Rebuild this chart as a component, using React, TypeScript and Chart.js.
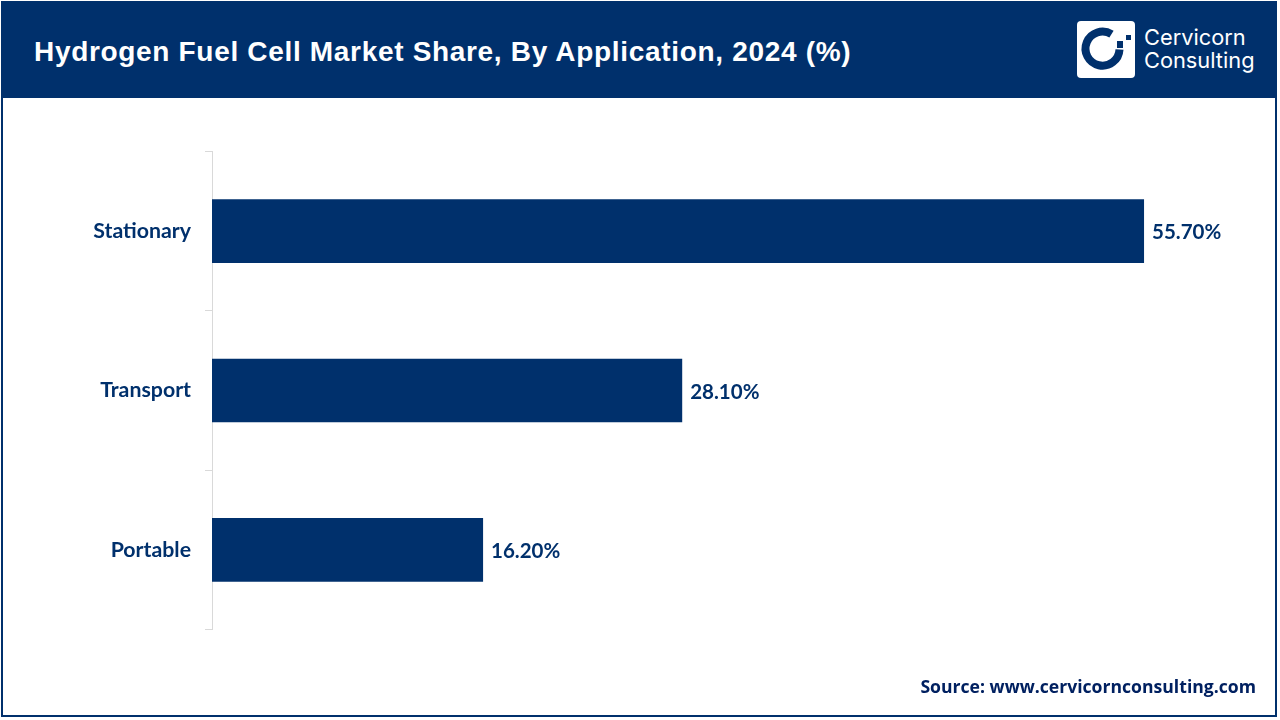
import React, { useEffect, useRef } from "react";
import { Chart, registerables } from "chart.js";

Chart.register(...registerables);

const TITLE = "Hydrogen Fuel Cell Market Share, By Application, 2024 (%)";
const SOURCE = "Source: www.cervicornconsulting.com";
const LOGO_LINES = ["Cervicorn", "Consulting"];
const categories = ["Stationary", "Transport", "Portable"];
const shares = [55.7, 28.1, 16.2];
const NAVY = "#00306C";

const valueLabels = {
  id: "valueLabels",
  afterDatasetsDraw(chart: any) {
    const { ctx } = chart;
    const meta = chart.getDatasetMeta(0);
    ctx.save();
    ctx.font = "bold 20.5px Lato";
    ctx.fillStyle = NAVY;
    ctx.textAlign = "left";
    ctx.textBaseline = "middle";
    meta.data.forEach((bar: any, i: number) => {
      ctx.fillText(shares[i].toFixed(2) + "%", bar.x + 8, bar.y + 1.5);
    });
    ctx.restore();
  },
};

export default function App() {
  const ref = useRef<HTMLCanvasElement>(null);
  useEffect(() => {
    const chart = new Chart(ref.current!, {
      type: "bar",
      data: {
        labels: categories,
        datasets: [
          {
            data: shares,
            backgroundColor: NAVY,
            categoryPercentage: 1,
            barPercentage: 0.4,
          },
        ],
      },
      options: {
        indexAxis: "y",
        animation: false,
        responsive: false,
        layout: { padding: { top: 151.5, bottom: 90.5, right: 64, left: 0 } },
        plugins: { legend: { display: false }, tooltip: { enabled: false } },
        scales: {
          x: { display: false, min: 0, max: 60 },
          y: {
            afterFit(scale: any) {
              scale.width = 212;
            },
            border: { color: "#D9D9D9", width: 1 },
            grid: {
              offset: true,
              drawOnChartArea: false,
              drawTicks: true,
              tickLength: 7,
              color: "#D9D9D9",
            },
            ticks: {
              padding: 14,
              color: NAVY,
              font: { family: "Lato", weight: "bold", size: 21.3 },
            },
          },
        },
      },
      plugins: [valueLabels],
    } as any);
    return () => chart.destroy();
  }, []);

  return (
    <div style={{ position: "fixed", left: 0, top: 0, width: 1280, height: 720, background: "#fff", overflow: "hidden" }}>
      <canvas ref={ref} width={1280} height={720} style={{ position: "absolute", left: 0, top: 0, width: 1280, height: 720 }} />
      <div style={{ position: "absolute", left: 1, top: 1, width: 1276, height: 716, boxSizing: "border-box", border: `2px solid ${NAVY}`, pointerEvents: "none" }} />
      <div style={{ position: "absolute", left: 1, top: 1, width: 1276, height: 97, background: NAVY }} />
      <div style={{ position: "absolute", left: 34, top: 33, color: "#fff", font: "bold 28px 'Liberation Sans'", letterSpacing: 0.68, whiteSpace: "nowrap", lineHeight: "38px" }}>{TITLE}</div>
      <div style={{ position: "absolute", left: 1077, top: 21, width: 58, height: 57, background: "#fff", borderRadius: 4 }}>
        <svg width={58} height={57} viewBox="0 0 58 57">
          <path d="M 34.5 13.2 A 17 17 0 1 0 42.5 28.5" fill="none" stroke={NAVY} strokeWidth={8} />
          <rect x={40} y={20} width={6} height={7} fill={NAVY} />
          <rect x={49} y={14} width={5} height={5} fill={NAVY} />
        </svg>
      </div>
      <div style={{ position: "absolute", left: 1144, top: 26, color: "#fff", font: "21.8px/22.5px Inter", whiteSpace: "nowrap" }}>
        {LOGO_LINES.map((l) => (
          <div key={l}>{l}</div>
        ))}
      </div>
      <div style={{ position: "absolute", right: 24, top: 674, color: "#002060", font: "bold 17.6px/24px 'Open Sans'", whiteSpace: "nowrap" }}>{SOURCE}</div>
    </div>
  );
}
